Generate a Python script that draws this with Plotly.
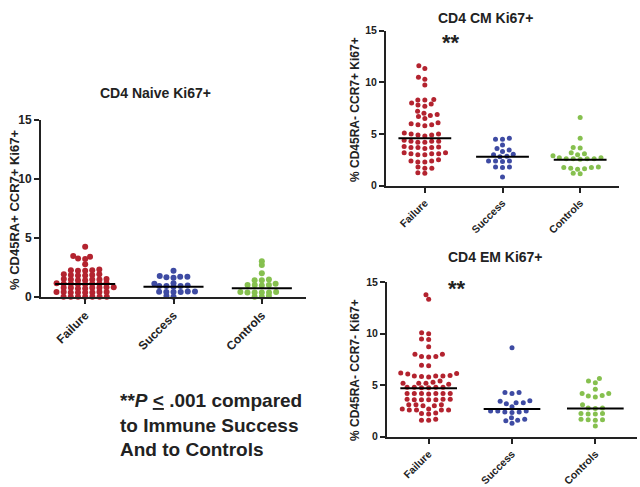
import math
import plotly.graph_objects as go

# groups on the x axis
groups = ["Failure", "Success", "Controls"]
colors = ["#B3232F", "#3E4BA3", "#86C04F"]

# CD4 Naive Ki67+  (% CD45RA+ CCR7+ Ki67+)
naive_failure = [4.25, 3.45, 3.4, 3.25, 3.2, 2.75, 2.3, 2.25, 2.25, 2.2, 2.2, 1.9, 1.9, 1.85,
                 1.85, 1.8, 1.8, 1.5, 1.5, 1.45, 1.45, 1.45, 1.4, 1.4, 1.15, 1.15, 1.1, 1.1,
                 1.1, 1.1, 1.05, 1.05, 0.8, 0.8, 0.75, 0.75, 0.75, 0.75, 0.7, 0.7, 0.4, 0.4,
                 0.4, 0.4, 0.35, 0.35, 0.35, 0.35, 0.0, 0.0, 0.0, 0.0, 0.0, 0.0, 0.0]
naive_success = [2.2, 1.75, 1.7, 1.6, 1.65, 1.7, 1.15, 1.1, 0.95, 0.9, 0.9, 0.85, 0.9, 0.45,
                 0.45, 0.4, 0.4, 0.42, 0.4, 0.05, 0.0]
naive_controls = [3.0, 2.7, 2.0, 1.45, 1.4, 1.4, 1.1, 1.0, 1.0, 0.95, 1.0, 0.4, 0.35, 0.35,
                  0.35, 0.35, 0.4, 0.05, 0.0, 0.0]
naive_lines = [1.08, 0.85, 0.72]

# CD4 CM Ki67+  (% CD45RA- CCR7+ Ki67+)
cm_failure = [11.6, 11.35, 10.5, 10.3, 9.75, 8.35, 8.3, 8.3, 8.0, 7.9, 7.8, 7.7, 7.2, 7.0,
              6.9, 6.8, 6.7, 6.5, 6.1, 6.0, 5.9, 5.9, 5.8, 5.1, 5.0, 5.0, 4.9, 4.9, 4.8, 4.4,
              4.3, 4.3, 4.3, 4.2, 4.2, 3.8, 3.75, 3.7, 3.7, 3.7, 3.6, 3.2, 3.1, 3.1, 3.0, 3.0,
              3.1, 3.2, 2.5, 2.4, 2.4, 2.3, 2.3, 1.8, 1.7, 1.7, 1.25, 1.2]
cm_success = [4.6, 4.5, 4.5, 3.95, 3.6, 3.45, 3.3, 3.05, 3.0, 2.85, 2.8, 2.4, 2.4, 2.35, 2.4,
              1.8, 1.75, 1.8, 0.85]
cm_controls = [6.6, 4.6, 3.7, 3.65, 3.2, 3.0, 3.1, 2.9, 2.7, 2.6, 2.6, 2.6, 2.55, 2.6, 2.7,
               1.75, 1.6, 1.8, 1.75, 1.7, 1.65, 1.2, 1.15]
cm_lines = [4.6, 2.8, 2.5]

# CD4 EM Ki67+  (% CD45RA- CCR7- Ki67+)
em_failure = [13.8, 13.35, 10.1, 10.0, 9.5, 9.45, 8.75, 8.0, 8.0, 7.8, 7.8, 7.75, 6.95, 6.9,
              6.2, 6.15, 6.1, 5.95, 5.9, 5.9, 5.85, 5.8, 5.9, 5.4, 5.3, 5.2, 5.2, 5.1, 5.2,
              4.8, 4.8, 4.8, 4.75, 4.8, 4.75, 4.2, 4.2, 4.2, 4.2, 4.15, 4.2, 4.2, 3.65, 3.65,
              3.6, 3.6, 3.65, 3.6, 3.6, 3.1, 3.1, 3.0, 3.1, 3.0, 2.7, 2.6, 2.7, 2.6, 2.6, 2.6,
              2.25, 2.3, 2.2, 1.7, 1.6, 1.6]
em_success = [8.65, 4.3, 4.2, 4.3, 3.5, 3.45, 3.3, 3.2, 3.3, 2.9, 2.5, 2.5, 2.4, 2.35, 2.4,
              2.5, 1.85, 1.6, 1.55, 1.7, 1.3]
em_controls = [5.65, 5.4, 5.25, 4.6, 4.2, 4.0, 3.85, 3.95, 4.2, 2.8, 2.75, 2.8, 3.1, 2.25,
               2.2, 2.2, 2.25, 1.6, 1.7, 1.65, 1.65, 1.05]
em_lines = [4.7, 2.7, 2.75]

y_ticks = [0, 5, 10, 15]

W, H = 640, 487
FONT = "Arial, Liberation Sans, sans-serif"

# pixel boxes of the plot areas: left, right, top, bottom
panels = [
    dict(name="CD4 Naive Ki67+", ytitle="% CD45RA+ CCR7+ Ki67+",
         data=[naive_failure, naive_success, naive_controls], lines=naive_lines,
         box=(41, 306, 120, 296.7), title_xy=(155, 93), ytitle_xy=(14, 210),
         msize=6, gap=(7.2, 3.2), tfs=12, yfs=13),
    dict(name="CD4 CM Ki67+", ytitle="% CD45RA- CCR7+ Ki67+",
         data=[cm_failure, cm_success, cm_controls], lines=cm_lines,
         box=(386, 619, 30.7, 185.7), title_xy=(485, 8), ytitle_xy=(355, 110),
         msize=5, gap=(7.0, 5.0), tfs=10.5, yfs=12),
    dict(name="CD4 EM Ki67+", ytitle="% CD45RA- CCR7- Ki67+",
         data=[em_failure, em_success, em_controls], lines=em_lines,
         box=(387, 637, 282.3, 436.7), title_xy=(495, 257), ytitle_xy=(355, 370),
         msize=5, gap=(7.2, 5.0), tfs=10.5, yfs=12),
]


def swarm(vals, gap, ppu_y):
    # simple beeswarm with elliptical spacing; returns x offsets in pixels
    gx, gy = gap
    ys = [v * ppu_y for v in vals]
    order = sorted(range(len(vals)), key=lambda i: ys[i])
    placed = []
    xs = [0.0] * len(vals)
    for i in order:
        y = ys[i]
        near = [(px, py) for px, py in placed if abs(py - y) < gy]
        cands = [0.0]
        for px, py in near:
            dx = gx * math.sqrt(1 - ((py - y) / gy) ** 2)
            cands += [px - dx, px + dx]
        cands.sort(key=abs)
        for c in cands:
            if all(((c - px) / gx) ** 2 + ((y - py) / gy) ** 2 >= 1 - 1e-6 for px, py in near):
                xs[i] = c
                break
        placed.append((xs[i], y))
    return xs


fig = go.Figure()
annotations = []
layout_axes = {}

for k, p in enumerate(panels):
    sfx = "" if k == 0 else str(k + 1)
    x0, x1, y0, y1 = p["box"]
    ppu_x = (x1 - x0) / 3.0
    ppu_y = (y1 - y0) / 15.0
    for g, vals in enumerate(p["data"]):
        offs = swarm(vals, p["gap"], ppu_y)
        fig.add_trace(go.Scatter(
            x=[g + o / ppu_x for o in offs], y=vals, mode="markers",
            marker=dict(color=colors[g], size=p["msize"], line=dict(width=0)),
            xaxis="x" + sfx, yaxis="y" + sfx, cliponaxis=False, showlegend=False,
        ))
        fig.add_trace(go.Scatter(
            x=[g - 0.34, g + 0.34], y=[p["lines"][g]] * 2, mode="lines",
            line=dict(color="black", width=2),
            xaxis="x" + sfx, yaxis="y" + sfx, showlegend=False,
        ))
    layout_axes["xaxis" + sfx] = dict(
        domain=[x0 / W, x1 / W], range=[-0.5, 2.5], anchor="y" + sfx, automargin=False,
        tickmode="array", tickvals=[0, 1, 2], ticktext=["<b>%s</b>" % s for s in groups],
        tickangle=-45, ticks="outside", ticklen=5, tickwidth=1.5, tickcolor="#222",
        showline=True, linecolor="#222", linewidth=2, showgrid=False, zeroline=False,
        tickfont=dict(family=FONT, size=p["tfs"], color="#222"),
    )
    layout_axes["yaxis" + sfx] = dict(
        domain=[1 - y1 / H, 1 - y0 / H], range=[0, 15], anchor="x" + sfx, automargin=False,
        tickvals=y_ticks, ticktext=["<b>%d</b>" % t for t in y_ticks],
        ticks="outside", ticklen=5, tickwidth=1.5, tickcolor="#222",
        showline=True, linecolor="#222", linewidth=2, showgrid=False, zeroline=False,
        tickfont=dict(family=FONT, size=p["tfs"], color="#222"),
    )
    tx, ty = p["title_xy"]
    annotations.append(dict(
        text="<b>%s</b>" % p["name"], x=tx / W, y=1 - ty / H, xref="paper", yref="paper",
        xanchor="center", yanchor="middle" if k != 1 else "top", showarrow=False,
        font=dict(family=FONT, size=14, color="#222"),
    ))
    yx, yy = p["ytitle_xy"]
    annotations.append(dict(
        text="<b>%s</b>" % p["ytitle"], x=yx / W, y=1 - yy / H, xref="paper", yref="paper",
        xanchor="center", yanchor="middle", textangle=-90, showarrow=False,
        font=dict(family=FONT, size=p["yfs"], color="#222"),
    ))

# significance marks
for sx, sy in [(451, 42), (457, 288)]:
    annotations.append(dict(
        text="<b>**</b>", x=sx / W, y=1 - sy / H, xref="paper", yref="paper",
        xanchor="center", yanchor="middle", showarrow=False,
        font=dict(family=FONT, size=22, color="#222"),
    ))

annotations.append(dict(
    text="<b>**<i>P</i> <u><</u> .001 compared<br>to Immune Success<br>And to Controls</b>",
    x=118 / W, y=1 - 388 / H, xref="paper", yref="paper",
    xanchor="left", yanchor="top", align="left", showarrow=False,
    font=dict(family=FONT, size=19, color="#222"),
))

fig.update_layout(
    width=W, height=H, margin=dict(l=0, r=0, t=0, b=0, autoexpand=False),
    paper_bgcolor="white", plot_bgcolor="white",
    annotations=annotations, **layout_axes,
)

# drop the browser's default 8px body margin so the figure fills the window
fig.write_html(
    "out.html",
    config={"displayModeBar": False},
    post_script="document.body.style.margin = '0';",
)
